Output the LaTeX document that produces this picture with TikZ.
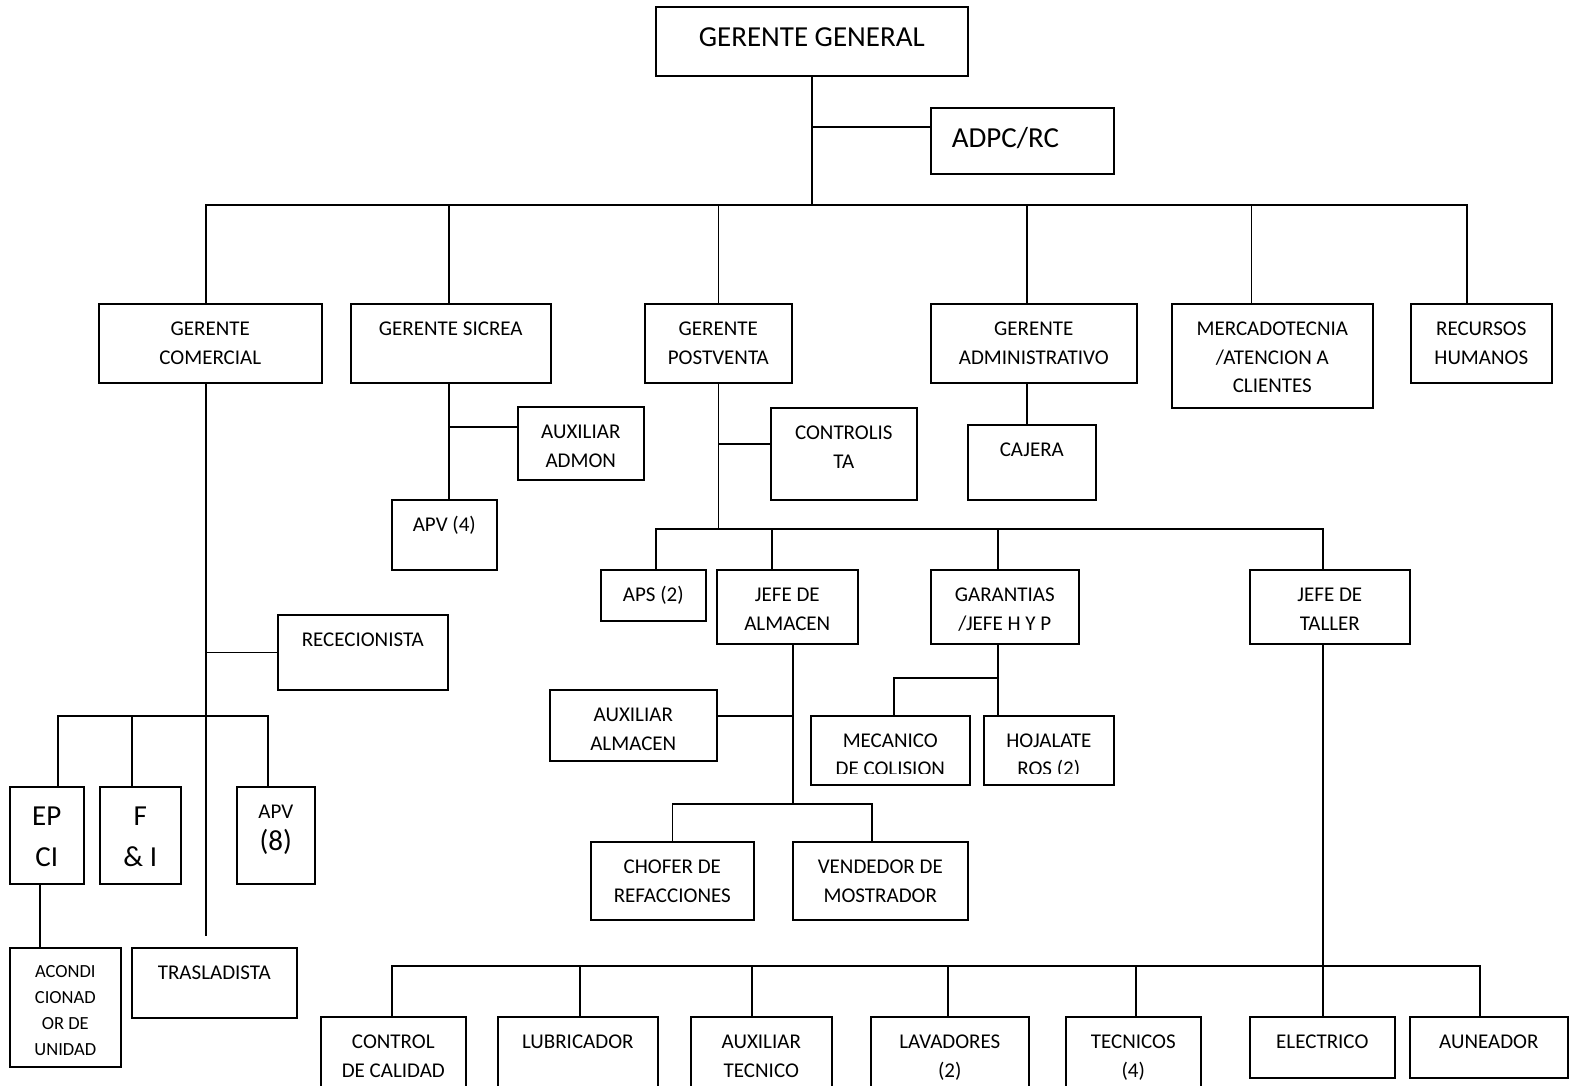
\documentclass[tikz,border=0pt]{standalone}
\usepackage{fontspec}
\setmainfont{Carlito}

\newcommand{\fsmall}{\fontsize{21}{28.5}\selectfont}
\newcommand{\fbig}{\fontsize{29}{41}\selectfont}
\newcommand{\ftiny}{\fontsize{18.5}{26}\selectfont}
% width, height, first baseline, text
\newcommand{\tb}[4]{\parbox[c][#2pt][t]{#1pt}{\centering\rule{0pt}{#3pt}#4}}

\tikzset{
	box/.style={draw, line width=1.6pt, anchor=north west, inner sep=0pt, font=\fsmall},
	link/.style={line width=1.6pt},
}

\begin{document}
\begin{tikzpicture}[x=1pt, y=-1pt]
		\useasboundingbox (0,0) rectangle (1575,1086);
		\clip (0,0) rectangle (1575,1086);

		% top
		\node[box, font=\fbig] (gg) at (655,6) {\tb{312}{69}{40}{GERENTE GENERAL}};
		\node[box, font=\fbig] (adpc) at (930,107) {\parbox[c][66pt][t]{183pt}{\raggedright\hspace*{21pt}\rule{0pt}{40pt}ADPC/RC}};

		% gerentes
		\node[box] (gc) at (98,303) {\tb{223}{79}{32}{GERENTE\\COMERCIAL}};
		\node[box] (gs) at (350,303) {\tb{200}{79}{32}{GERENTE SICREA}};
		\node[box] (gp) at (644,303) {\tb{147}{79}{32}{GERENTE\\POSTVENTA}};
		\node[box] (ga) at (930,303) {\tb{206}{79}{32}{GERENTE\\ADMINISTRATIVO}};
		\node[box] (merc) at (1171,303) {\tb{201}{104}{32}{MERCADOTECNIA\\/ATENCION A\\CLIENTES}};
		\node[box] (rh) at (1410,303) {\tb{141}{79}{32}{RECURSOS\\HUMANOS}};

		% comercial
		\node[box] (recep) at (277,614) {\tb{170}{75}{32}{RECECIONISTA}};
		\node[box, font=\fbig] (epci) at (9,786) {\tb{74}{97}{39}{EP\\CI}};
		\node[box, font=\fbig] (fi) at (99,786) {\tb{81}{97}{39}{F\\\& I}};
		\node[box] (apv8) at (236,786) {\tb{78}{97}{32}{APV\\[3.5pt]{\fbig (8)}}};
		\node[box, font=\ftiny] (acond) at (9,947) {\tb{111}{119}{30}{ACONDI\\CIONAD\\OR DE\\UNIDAD}};
		\node[box] (trasl) at (131,947) {\tb{165}{70}{32}{TRASLADISTA}};

		% sicrea
		\node[box] (auxadm) at (517,406) {\tb{126}{73}{32}{AUXILIAR\\ADMON}};
		\node[box] (apv4) at (391,499) {\tb{105}{70}{32}{APV (4)}};

		% postventa
		\node[box] (ctrl) at (770,407) {\tb{146}{92}{32}{CONTROLIS\\TA}};
		\node[box] (aps) at (600,569) {\tb{105}{51}{32}{APS (2)}};
		\node[box] (jalm) at (716,569) {\tb{141}{74}{32}{JEFE DE\\ALMACEN}};
		\node[box] (gar) at (930,569) {\tb{148}{74}{32}{GARANTIAS\\/JEFE H Y P}};
		\node[box] (jtal) at (1249,569) {\tb{160}{74}{32}{JEFE DE\\TALLER}};

		\node[box] (auxalm) at (549,689) {\tb{167}{71}{32}{AUXILIAR\\ALMACEN}};
		\node[box] (chof) at (590,841) {\tb{163}{78}{32}{CHOFER DE\\REFACCIONES}};
		\node[box] (vend) at (792,841) {\tb{175}{78}{32}{VENDEDOR DE\\MOSTRADOR}};

		\node[box, minimum width=159pt, minimum height=69pt] (mec) at (810,715) {};
		\node[box, minimum width=130pt, minimum height=69pt] (hoja) at (983,715) {};
		\begin{scope}
			\clip (mec.north west) rectangle ([yshift=12pt]hoja.south east);
			\node[anchor=north, inner sep=0pt, font=\fsmall] (mectx) at (mec.north) {\tb{159}{69}{32}{MECANICO\\DE COLISION}};
			\node[anchor=north, inner sep=0pt, font=\fsmall] (hojatx) at (hoja.north) {\tb{130}{69}{32}{HOJALATE\\ROS (2)}};
		\end{scope}

		% taller
		\node[box] (ctcal) at (320,1016) {\tb{145}{90}{32}{CONTROL\\DE CALIDAD}};
		\node[box] (lub) at (497,1016) {\tb{160}{90}{32}{LUBRICADOR}};
		\node[box] (auxtec) at (690,1016) {\tb{141}{90}{32}{AUXILIAR\\TECNICO}};
		\node[box] (lav) at (870,1016) {\tb{158}{90}{32}{LAVADORES\\(2)}};
		\node[box] (tec) at (1065,1016) {\tb{135}{90}{32}{TECNICOS\\(4)}};
		\node[box] (elec) at (1249,1016) {\tb{145}{61}{32}{ELECTRICO}};
		\node[box] (aun) at (1409,1016) {\tb{158}{61}{32}{AUNEADOR}};

		% administrativo
		\node[box] (caj) at (967,424) {\tb{128}{75}{32}{CAJERA}};

		% lines
		\coordinate (hub1) at (gg.south |- 0,205);
		\draw[link] (gg.south) -- (hub1);
		\draw[link] ([yshift=14pt]adpc.west) -| (gg.south);
		\foreach \n/\sh in {gc/-4.5, gs/-2, gp/0, ga/-7, merc/-21, rh/-14.5}
			\draw[link] ([xshift=\sh pt]\n.north) |- (hub1);

		\coordinate (gct) at ([xshift=-4.5pt]gc.south);
		\coordinate (gcend) at (gct |- 0,936);
		\coordinate (hub2) at (gct |- 0,716);
		\draw[link] (gct) -- (gcend);
		\draw[link] (recep.west) -- (recep.west -| gct);
		\foreach \n/\sh in {epci/11, fi/-8.5, apv8/-8}
			\draw[link] ([xshift=\sh pt]\n.north) |- (hub2);
		\coordinate (ept) at ([xshift=-7pt]epci.south);
		\draw[link] (ept) -- (ept |- acond.north);

		\coordinate (gst) at ([xshift=-2pt]gs.south);
		\draw[link] (gst) -- (gst |- apv4.north);
		\draw[link] ([yshift=16.5pt]auxadm.west) -| (gst);

		\coordinate (hub3) at (gp.south |- 0,529);
		\draw[link] (gp.south) -- (hub3);
		\draw[link] ([yshift=10pt]ctrl.west) -| (gp.south);
		\foreach \n/\sh in {aps/2.5, jalm/-15.5, gar/-7, jtal/-7}
			\draw[link] ([xshift=\sh pt]\n.north) |- (hub3);

		\coordinate (jat) at ([xshift=5.5pt]jalm.south);
		\coordinate (hub4) at (jat |- 0,804);
		\draw[link] (jat) -- (hub4);
		\draw[link] ([yshift=9.5pt]auxalm.east) -| (jat);
		\draw[link] (chof.north) |- (hub4);
		\draw[link] ([xshift=-8.5pt]vend.north) |- (hub4);

		\coordinate (gat) at ([xshift=-7pt]gar.south);
		\coordinate (hub5) at (gat |- 0,678);
		\draw[link] (gat) -- (gat |- hoja.north);
		\draw[link] ([xshift=3.5pt]mec.north) |- (hub5);

		\coordinate (jtt) at ([xshift=-7pt]jtal.south);
		\coordinate (hub6) at (jtt |- 0,966);
		\draw[link] (jtt) -- (jtt |- elec.north);
		\foreach \n/\sh in {ctcal/-1.5, lub/2, auxtec/-9.5, lav/-2, tec/2.5, aun/-9}
			\draw[link] ([xshift=\sh pt]\n.north) |- (hub6);

		\coordinate (adt) at ([xshift=-7pt]ga.south);
		\draw[link] (adt) -- (adt |- caj.north);
	\end{tikzpicture}
\end{document}
